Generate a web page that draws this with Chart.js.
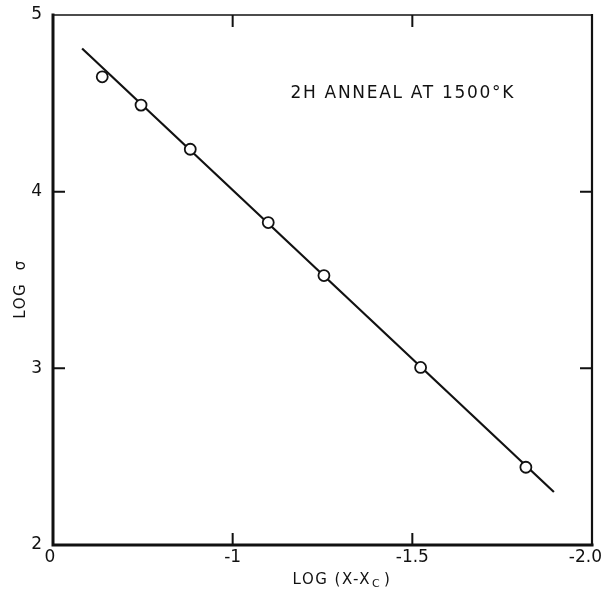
<!DOCTYPE html>
<html>
<head>
<meta charset="utf-8">
<script src="https://cdn.jsdelivr.net/npm/chart.js@4/dist/chart.umd.min.js"></script>
<style>
  html, body { margin: 0; padding: 0; background: #fff; }
  #wrap { width: 603px; height: 600px; }
</style>
</head>
<body>
<div id="wrap"><canvas id="chart"></canvas></div>
<script>
// measured points, log(x - xc) vs log sigma
const logX = [-0.637, -0.745, -0.882, -1.099, -1.254, -1.523, -1.816];
const logSigma = [4.65, 4.49, 4.24, 3.825, 3.525, 3.005, 2.44];

// fitted straight line, its two ends
const fitX = [-0.581, -1.894];
const fitY = [4.81, 2.30];

const xTickValues = [-0.5, -1.0, -1.5, -2.0];
const xTickLabels = ["0", "-1", "-1.5", "-2.0"];
const yTickValues = [2, 3, 4, 5];

const noteText = "2H ANNEAL AT 1500°K";
const noteAt = [-1.161, 4.558];

const ink = "#111";
const font = "'DejaVu Sans', sans-serif";

// frame + inward ticks + texts
const framePlugin = {
    id: "frame",
    afterDraw(chart) {
        let ctx = chart.ctx,
            a = chart.chartArea,
            xs = chart.scales.x,
            ys = chart.scales.y;
        ctx.save();
        ctx.strokeStyle = ink;
        ctx.lineCap = "square";

        ctx.lineWidth = 3;
        ctx.beginPath();
        ctx.moveTo(a.left, a.top); ctx.lineTo(a.left, a.bottom); ctx.lineTo(a.right, a.bottom);
        ctx.stroke();
        ctx.lineWidth = 2.2;
        ctx.beginPath();
        ctx.moveTo(a.right, a.bottom); ctx.lineTo(a.right, a.top);
        ctx.stroke();
        ctx.lineWidth = 1.6;
        ctx.beginPath();
        ctx.moveTo(a.left, a.top); ctx.lineTo(a.right, a.top);
        ctx.stroke();

        ctx.lineWidth = 2;
        ctx.lineCap = "butt";
        ctx.beginPath();
        xTickValues.slice(1, -1).forEach(v => {
            let px = xs.getPixelForValue(v);
            ctx.moveTo(px, a.bottom); ctx.lineTo(px, a.bottom - 12);
            ctx.moveTo(px, a.top); ctx.lineTo(px, a.top + 12);
        });
        yTickValues.slice(1, -1).forEach(v => {
            let py = ys.getPixelForValue(v);
            ctx.moveTo(a.left, py); ctx.lineTo(a.left + 12, py);
            ctx.moveTo(a.right, py); ctx.lineTo(a.right - 12, py);
        });
        ctx.stroke();

        ctx.fillStyle = ink;
        ctx.textBaseline = "middle";

        // x tick labels (drawn here so the last one may run past the frame)
        ctx.font = "17px " + font;
        ctx.textAlign = "center";
        xTickValues.forEach((v, i) => {
            let px = xs.getPixelForValue(v);
            if (i == 0) px -= 3;
            if (i == xTickValues.length - 1) px = Math.min(px - 5, 602 - ctx.measureText(xTickLabels[i]).width / 2);
            ctx.fillText(xTickLabels[i], px, a.bottom + 13);
        });

        // note
        ctx.textAlign = "left";
        ctx.font = "17px " + font;
        ctx.letterSpacing = "1.7px";
        ctx.fillText(noteText, xs.getPixelForValue(noteAt[0]), ys.getPixelForValue(noteAt[1]));

        // x title with subscript c
        ctx.letterSpacing = "1.5px";
        let main = "LOG (X-X", close = ")";
        ctx.font = "15px " + font;
        let w1 = ctx.measureText(main).width;
        ctx.font = "11px " + font;
        let w2 = ctx.measureText("C").width;
        ctx.font = "15px " + font;
        let w3 = ctx.measureText(close).width;
        let x0 = 342 - (w1 + w2 + 4 + w3) / 2, yT = 580;
        ctx.fillText(main, x0, yT);
        ctx.font = "11px " + font;
        ctx.fillText("C", x0 + w1 + 1, yT + 4);
        ctx.font = "15px " + font;
        ctx.fillText(close, x0 + w1 + w2 + 4, yT);

        // y title
        ctx.translate(21, 289);
        ctx.rotate(-Math.PI / 2);
        ctx.textAlign = "center";
        ctx.fillText("LOG  σ", 0, 0);
        ctx.restore();
    }
};

new Chart(document.getElementById("chart"), {
    type: "scatter",
    data: {
        datasets: [{
            data: fitX.map((x, i) => ({ x: x, y: fitY[i] })),
            showLine: true,
            borderColor: ink,
            borderWidth: 2.2,
            pointRadius: 0,
            order: 2
        }, {
            data: logX.map((x, i) => ({ x: x, y: logSigma[i] })),
            pointRadius: 5.5,
            pointBorderWidth: 1.8,
            pointBackgroundColor: "#fff",
            pointBorderColor: ink,
            order: 1
        }]
    },
    options: {
        responsive: true,
        maintainAspectRatio: false,
        animation: false,
        events: [],
        layout: { padding: { top: 15, right: 11, left: 0, bottom: 0 } },
        plugins: { legend: { display: false }, tooltip: { enabled: false } },
        scales: {
            x: {
                type: "linear",
                min: -2.0,
                max: -0.5,
                reverse: true,
                afterBuildTicks: s => { s.ticks = xTickValues.map(v => ({ value: v })); },
                afterFit: s => { s.height = 55; },
                ticks: { display: false },
                grid: { display: false },
                border: { display: false }
            },
            y: {
                min: 2,
                max: 5,
                afterBuildTicks: s => { s.ticks = yTickValues.map(v => ({ value: v })); },
                afterFit: s => { s.width = 53; },
                ticks: {
                    color: ink,
                    font: { family: font, size: 17 },
                    padding: 3
                },
                grid: { display: false },
                border: { display: false }
            }
        }
    },
    plugins: [framePlugin]
});
</script>
</body>
</html>
